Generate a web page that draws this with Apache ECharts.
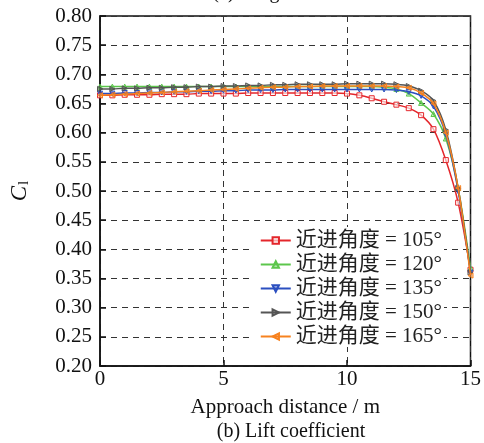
<!DOCTYPE html>
<html lang="zh">
<head>
<meta charset="UTF-8">
<title>Lift coefficient</title>
<script src="https://cdn.jsdelivr.net/npm/echarts@6/dist/echarts.min.js"></script>
<style>
  html, body { margin: 0; padding: 0; background: #fff; }
  #main { width: 484px; height: 443px; }
</style>
</head>
<body>
<div id="main"></div>
<script type="text/javascript">
// approach distance (m), every 0.5 m
var distance = [0, 0.5, 1, 1.5, 2, 2.5, 3, 3.5, 4, 4.5, 5, 5.5, 6, 6.5, 7, 7.5, 8, 8.5, 9, 9.5,
                10, 10.5, 11, 11.5, 12, 12.5, 13, 13.5, 14, 14.5, 15];

var cl105 = [0.664, 0.664, 0.665, 0.665, 0.665, 0.666, 0.666, 0.666, 0.667, 0.667, 0.667, 0.667, 0.668, 0.668, 0.668, 0.668,
             0.668, 0.668, 0.668, 0.668, 0.667, 0.664, 0.659, 0.653, 0.648, 0.642, 0.630, 0.606, 0.553, 0.480, 0.365];
var cl120 = [0.679, 0.679, 0.679, 0.679, 0.679, 0.679, 0.679, 0.679, 0.679, 0.679, 0.679, 0.679, 0.679, 0.679, 0.679, 0.679,
             0.679, 0.679, 0.679, 0.679, 0.679, 0.679, 0.679, 0.678, 0.675, 0.667, 0.651, 0.632, 0.590, 0.505, 0.368];
var cl135 = [0.667, 0.667, 0.668, 0.668, 0.669, 0.669, 0.670, 0.670, 0.671, 0.671, 0.672, 0.672, 0.673, 0.673, 0.673, 0.674,
             0.674, 0.674, 0.674, 0.674, 0.674, 0.674, 0.674, 0.674, 0.673, 0.670, 0.663, 0.645, 0.597, 0.500, 0.360];
var cl150 = [0.675, 0.675, 0.676, 0.676, 0.677, 0.677, 0.678, 0.678, 0.679, 0.679, 0.680, 0.680, 0.681, 0.681, 0.682, 0.682,
             0.683, 0.683, 0.683, 0.683, 0.684, 0.684, 0.684, 0.684, 0.683, 0.680, 0.672, 0.655, 0.605, 0.505, 0.360];
var cl165 = [0.664, 0.665, 0.666, 0.667, 0.668, 0.669, 0.670, 0.671, 0.672, 0.673, 0.674, 0.675, 0.676, 0.677, 0.678, 0.678,
             0.679, 0.679, 0.680, 0.680, 0.680, 0.680, 0.680, 0.680, 0.679, 0.677, 0.668, 0.650, 0.600, 0.505, 0.355];

var seriesNames = ['近进角度 = 105°', '近进角度 = 120°', '近进角度 = 135°', '近进角度 = 150°', '近进角度 = 165°'];
var seriesColors = ['#e4262b', '#5cc64c', '#2b4fc0', '#555555', '#f7821f'];
var seriesSymbols = ['rect', 'triangle', 'path://M0,0 L10,0 L5,9 Z', 'path://M0,0 L9,5 L0,10 Z', 'path://M9,0 L0,5 L9,10 Z'];
var seriesData = [cl105, cl120, cl135, cl150, cl165];

var xTicks = [0, 5, 10, 15];

var serif = '"Liberation Serif", "DejaVu Serif", "Noto Sans CJK SC", serif';
var myChart = echarts.init(document.getElementById('main'));

var series = [];
for (var i = 0; i < seriesData.length; i++) {
    var pts = [];
    for (var j = 0; j < distance.length; j++) pts.push([distance[j], seriesData[i][j]]);
    series.push({
        name: seriesNames[i],
        type: 'line',
        data: pts,
        smooth: 0.3,
        symbol: seriesSymbols[i],
        symbolSize: 5,
        showAllSymbol: true,
        color: seriesColors[i],
        lineStyle: { width: 1.5, color: seriesColors[i] },
        itemStyle: {
            color: i === 0 ? 'rgba(255,255,255,0.6)' : echarts.color.modifyAlpha(seriesColors[i], 0.35),
            borderColor: seriesColors[i], borderWidth: 1
        },
        z: 3 + i
    });
}

var option = {
    animation: false,
    backgroundColor: '#fff',
    textStyle: { fontFamily: serif },
    title: [{
        text: '(b) Lift coefficient',
        left: 286, top: 417, textAlign: 'center',
        textStyle: { fontFamily: serif, fontSize: 20, fontWeight: 'normal', color: '#111' }
    }, {
        text: '(a) Drag coefficient',
        left: 286, top: -22, textAlign: 'center',
        textStyle: { fontFamily: serif, fontSize: 20, fontWeight: 'normal', color: '#111' }
    }],
    grid: { left: 97, right: 10, top: 16, bottom: 77, show: true, borderColor: '#111', borderWidth: 1.5 },
    legend: {
        orient: 'vertical',
        right: 40, top: 227,
        itemWidth: 30, itemHeight: 8, itemGap: 3,
        backgroundColor: '#fff',
        padding: [3, 2, 0, 6],
        data: seriesNames,
        textStyle: { fontFamily: serif, fontSize: 21, color: '#222', lineHeight: 20 }
    },
    xAxis: {
        type: 'value',
        min: 0, max: 15, interval: 5,
        name: 'Approach distance / m',
        nameLocation: 'middle', nameGap: 31,
        nameTextStyle: { fontFamily: serif, fontSize: 21, color: '#111' },
        axisLine: { lineStyle: { color: '#111', width: 1.5 } },
        axisTick: { inside: true, length: 6, lineStyle: { color: '#111', width: 1.5 } },
        axisLabel: { fontFamily: serif, fontSize: 21, color: '#111', margin: 3,
            formatter: function (v) { return xTicks.indexOf(v) >= 0 ? String(v) : ''; } },
        splitLine: { show: true, lineStyle: { type: [6, 5], color: '#333', width: 1 } }
    },
    yAxis: {
        type: 'value',
        min: 0.2, max: 0.8, interval: 0.05,
        name: '{i|C}{s|l}',
        nameLocation: 'middle', nameGap: 68, nameRotate: 90,
        nameTextStyle: {
            rich: {
                i: { fontFamily: serif, fontStyle: 'italic', fontSize: 23, color: '#111' },
                s: { fontFamily: serif, fontSize: 15, color: '#111', padding: [10, 0, 0, 1] }
            }
        },
        axisLine: { lineStyle: { color: '#111', width: 1.5 } },
        axisTick: { inside: true, length: 6, lineStyle: { color: '#111', width: 1.5 } },
        axisLabel: { fontFamily: serif, fontSize: 21, color: '#111', margin: 8,
            formatter: function (v) { return v.toFixed(2); } },
        splitLine: { show: true, lineStyle: { type: [6, 5], color: '#333', width: 1 } }
    },
    series: series
};

myChart.setOption(option);
</script>
</body>
</html>
